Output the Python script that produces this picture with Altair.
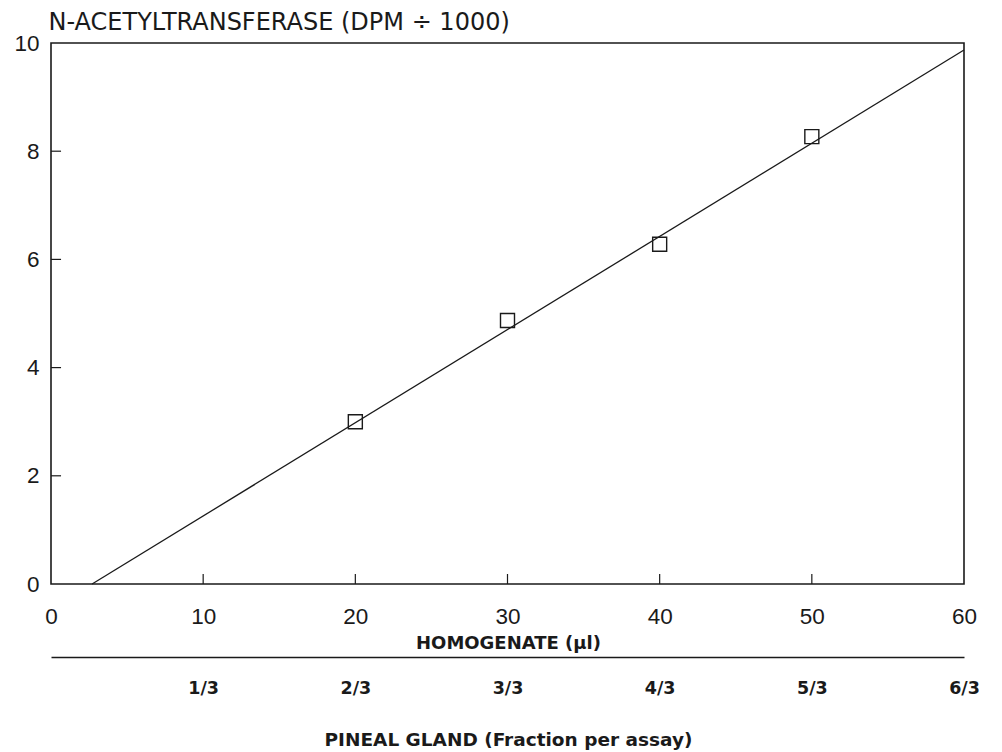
import altair as alt
import pandas as pd

# ---- data ----
homogenate = [20, 30, 40, 50]
activity = [3.0, 4.87, 6.28, 8.27]

fit_x = [2.7, 60]
fit_y = [0.0, 9.87]

x_ticks = [0, 10, 20, 30, 40, 50, 60]
y_ticks = [0, 2, 4, 6, 8, 10]
inner_x_ticks = [10, 20, 30, 40, 50]
inner_y_ticks = [2, 4, 6, 8]

fraction_pos = [10, 20, 30, 40, 50, 60]
fraction_labels = ["1/3", "2/3", "3/3", "4/3", "5/3", "6/3"]

# ---- tables ----
pts = pd.DataFrame({"h": homogenate, "a": activity})
fit = pd.DataFrame({"h": fit_x, "a": fit_y})
xt = pd.DataFrame({"h": inner_x_ticks, "a": [0] * len(inner_x_ticks),
                   "a2": [0.185] * len(inner_x_ticks)})
yt = pd.DataFrame({"a": inner_y_ticks, "h": [0] * len(inner_y_ticks),
                   "h2": [0.66] * len(inner_y_ticks)})
frac = pd.DataFrame({"f": fraction_pos, "lab": fraction_labels})

INK = "#1a1a1a"
NUM_FONT = "Liberation Sans"
WIDE_FONT = "DejaVu Sans"

xscale = alt.Scale(domain=[0, 60], nice=False, zero=False)
yscale = alt.Scale(domain=[0, 10], nice=False, zero=False)

x_axis = alt.Axis(
    values=x_ticks, ticks=False, domain=False, grid=False,
    labelFont=NUM_FONT, labelFontSize=22.5, labelColor=INK, labelPadding=21,
    labelFlush=False, labelOverlap=False,
    title="HOMOGENATE (µl)", titleFont=WIDE_FONT, titleFontSize=18,
    titleFontWeight="bold", titleColor=INK, titleX=457, titleY=64,
    titleBaseline="alphabetic", titleAnchor="middle", titleAlign="center",
)
y_axis = alt.Axis(
    values=y_ticks, ticks=False, domain=False, grid=False,
    labelFont=NUM_FONT, labelFontSize=22.5, labelColor=INK, labelPadding=12,
    labelFlush=False, labelOverlap=False,
    title="N-ACETYLTRANSFERASE (DPM ÷ 1000)", titleFont=WIDE_FONT,
    titleFontSize=24, titleFontWeight="normal", titleColor=INK,
    titleAngle=0, titleAlign="left", titleBaseline="alphabetic",
    titleX=-3, titleY=-14,
)

line = alt.Chart(fit).mark_line(color=INK, strokeWidth=1.3).encode(
    x=alt.X("h:Q", scale=xscale, axis=x_axis),
    y=alt.Y("a:Q", scale=yscale, axis=y_axis),
)

points = alt.Chart(pts).mark_point(
    shape="square", filled=False, size=196, stroke=INK, strokeWidth=1.4, opacity=1
).encode(
    x=alt.X("h:Q", scale=xscale),
    y=alt.Y("a:Q", scale=yscale),
)

xtick_rules = alt.Chart(xt).mark_rule(color=INK, strokeWidth=1.2).encode(
    x=alt.X("h:Q", scale=xscale),
    y=alt.Y("a:Q", scale=yscale),
    y2="a2:Q",
)
ytick_rules = alt.Chart(yt).mark_rule(color=INK, strokeWidth=1.2).encode(
    y=alt.Y("a:Q", scale=yscale),
    x=alt.X("h:Q", scale=xscale),
    x2="h2:Q",
)

main = alt.layer(line, points, xtick_rules, ytick_rules)

mapping = "{" + ",".join(f"'{p}':'{l}'" for p, l in zip(fraction_pos, fraction_labels)) + "}"

frac_axis = alt.Axis(
    orient="bottom", offset=73, values=fraction_pos, ticks=False, grid=False,
    domain=True, domainColor=INK, domainWidth=1.6,
    labelExpr=f"{mapping}[datum.value]",
    labelFont=WIDE_FONT, labelFontSize=17.5, labelFontWeight="bold",
    labelColor=INK, labelPadding=22, labelFlush=False, labelOverlap=False,
    title="PINEAL GLAND (Fraction per assay)", titleFont=WIDE_FONT,
    titleFontSize=18.5, titleFontWeight="bold", titleColor=INK,
    titleX=457, titleY=88, titleBaseline="alphabetic", titleAlign="center",
)

secondary = alt.Chart(frac).mark_rule(opacity=0).encode(
    x=alt.X("f:Q", scale=alt.Scale(domain=[0, 60], nice=False, zero=False), axis=frac_axis),
)

chart = alt.layer(main, secondary).resolve_scale(x="independent").properties(
    width=913, height=541,
    autosize=alt.AutoSizeParams(type="none"),
    padding={"left": 51, "top": 43, "right": 38, "bottom": 168},
    background="white",
).configure_view(stroke=INK, strokeWidth=1.6)

chart.save("out.html", embed_options={"renderer": "svg", "actions": False})
